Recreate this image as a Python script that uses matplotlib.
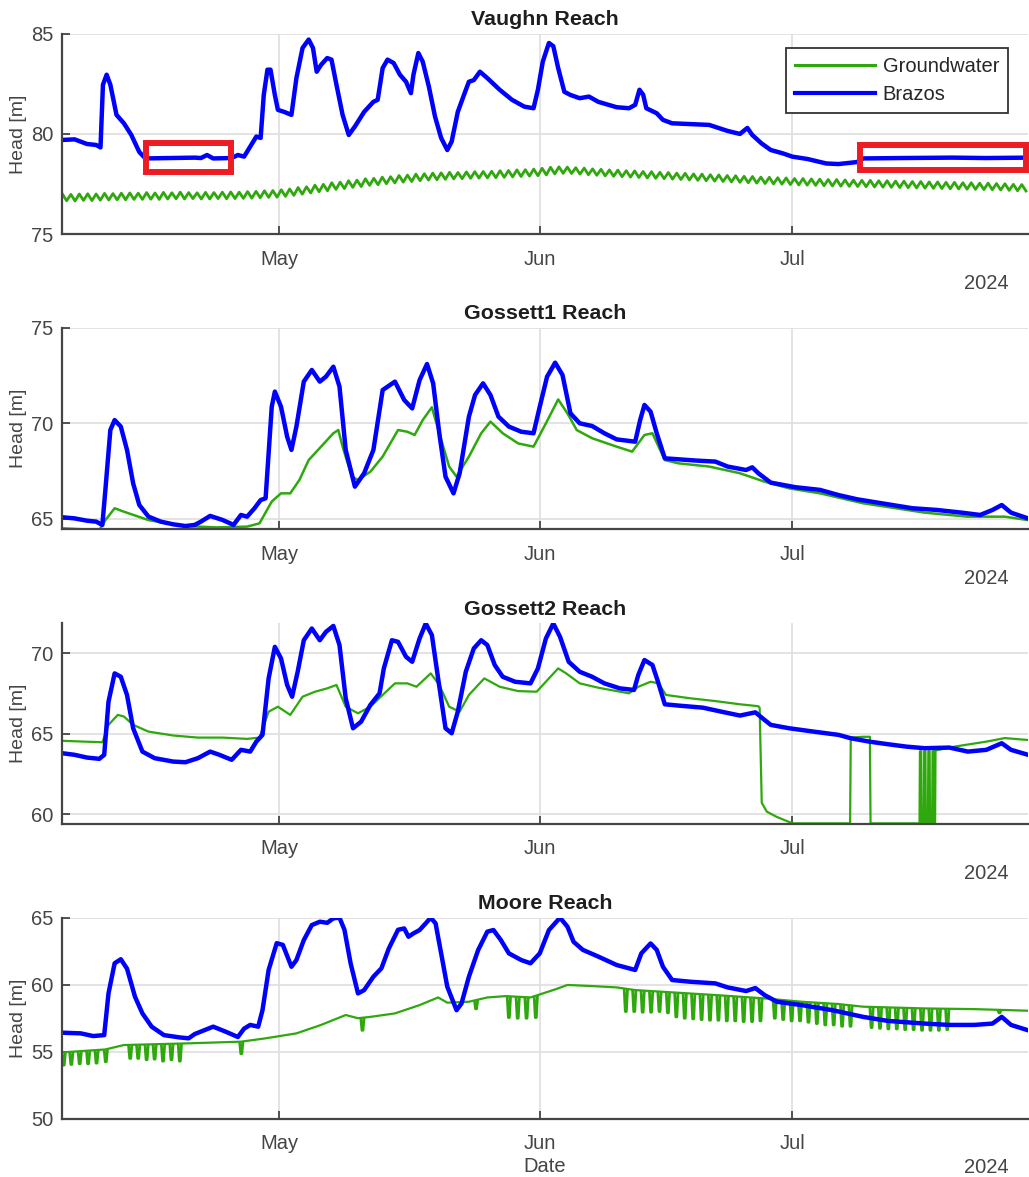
import numpy as np
import matplotlib
matplotlib.use("Agg")
import matplotlib.pyplot as plt
import matplotlib.dates as mdates
from matplotlib.lines import Line2D
from matplotlib.patches import Rectangle
from matplotlib.collections import LineCollection

plt.rcParams['font.family'] = ['Liberation Sans', 'DejaVu Sans']

# ---- data: (days since 2024-04-01, head [m]) ----
vaughn_brazos = [
    (4.2, 79.7), (5.69, 79.73), (7.16, 79.5), (8.26, 79.45), (8.77, 79.33), (9.06, 82.45),
    (9.50, 82.95), (9.94, 82.45), (10.67, 80.95), (11.55, 80.53), (12.43, 79.95), (13.38, 79.1),
    (14.11, 78.78), (17.0, 78.8), (20.0, 78.82), (20.70, 78.8), (21.43, 78.95), (22.16, 78.78),
    (24.36, 78.8), (25.09, 78.95), (25.83, 78.87), (26.56, 79.37), (27.29, 79.87), (27.80, 79.8),
    (28.17, 81.94), (28.61, 83.2), (28.97, 83.2), (29.49, 81.94), (29.85, 81.2), (30.58, 81.1),
    (31.46, 80.95), (32.05, 82.78), (32.78, 84.28), (33.51, 84.7), (34.02, 84.28), (34.46, 83.1),
    (34.98, 83.44), (35.71, 83.78), (36.22, 83.7), (36.81, 82.45), (37.54, 80.95), (38.27, 79.95),
    (39.00, 80.37), (40.10, 81.1), (41.20, 81.6), (41.71, 81.7), (42.30, 83.28), (42.88, 83.7),
    (43.61, 83.53), (44.35, 82.95), (45.08, 82.6), (45.66, 82.03), (45.96, 82.95), (46.54, 84.03),
    (47.06, 83.6), (47.79, 82.36), (48.52, 80.87), (49.25, 79.8), (49.98, 79.2), (50.50, 79.62),
    (51.23, 81.1), (51.96, 81.94), (52.55, 82.6), (53.13, 82.68), (53.86, 83.1), (54.74, 82.78),
    (56.21, 82.2), (57.67, 81.7), (59.13, 81.36), (60.23, 81.28), (60.75, 82.2), (61.33, 83.6),
    (62.06, 84.53), (62.58, 84.37), (63.16, 83.28), (63.89, 82.1), (64.62, 81.94), (65.72, 81.78),
    (66.82, 81.86), (67.92, 81.6), (70.11, 81.33), (71.58, 81.28), (72.31, 81.45), (72.82, 82.2),
    (73.26, 81.95), (73.63, 81.28), (74.87, 81.03), (75.61, 80.7), (76.70, 80.53), (81.10, 80.45),
    (83.29, 80.15), (84.76, 80.0), (85.64, 80.3), (86.22, 79.95), (87.32, 79.53), (88.42, 79.2),
    (89.88, 79.03), (90.98, 78.87), (92.81, 78.75), (95.01, 78.53), (96.47, 78.5), (98.67, 78.6),
    (99.40, 78.78), (104.0, 78.8), (110.0, 78.82), (114.0, 78.8), (119.0, 78.82),
]

# Vaughn groundwater: daily high / low of the diurnal swing, days 4..118
vaughn_gw_first_day = 4
vaughn_gw_high = [
    77.00, 76.99, 77.01, 77.02, 77.01, 77.04, 77.03, 77.05, 77.06, 77.05,
    77.08, 77.06, 77.09, 77.07, 77.10, 77.08, 77.07, 77.09, 77.08, 77.10,
    77.11, 77.10, 77.13, 77.14, 77.17, 77.18, 77.22, 77.26, 77.33, 77.37,
    77.45, 77.49, 77.57, 77.60, 77.67, 77.70, 77.77, 77.79, 77.85, 77.87,
    77.93, 77.95, 78.00, 78.02, 78.05, 78.06, 78.09, 78.08, 78.11, 78.12,
    78.13, 78.14, 78.17, 78.18, 78.21, 78.22, 78.25, 78.29, 78.34, 78.36,
    78.35, 78.32, 78.30, 78.26, 78.24, 78.21, 78.20, 78.17, 78.16, 78.13,
    78.12, 78.09, 78.08, 78.05, 78.04, 78.01, 78.00, 77.97, 77.96, 77.93,
    77.92, 77.89, 77.88, 77.85, 77.84, 77.82, 77.81, 77.78, 77.78, 77.76,
    77.75, 77.73, 77.73, 77.71, 77.70, 77.69, 77.69, 77.67, 77.67, 77.65,
    77.65, 77.63, 77.63, 77.61, 77.61, 77.59, 77.59, 77.57, 77.57, 77.55,
    77.55, 77.53, 77.52, 77.49, 77.48,
]
vaughn_gw_low = [
    76.67, 76.66, 76.69, 76.68, 76.70, 76.71, 76.72, 76.72, 76.74, 76.74,
    76.75, 76.74, 76.76, 76.77, 76.76, 76.78, 76.76, 76.76, 76.78, 76.77,
    76.78, 76.79, 76.80, 76.82, 76.84, 76.85, 76.89, 76.94, 77.00, 77.06,
    77.12, 77.17, 77.24, 77.28, 77.34, 77.38, 77.44, 77.47, 77.52, 77.56,
    77.60, 77.63, 77.67, 77.70, 77.72, 77.74, 77.76, 77.77, 77.79, 77.80,
    77.81, 77.82, 77.84, 77.86, 77.88, 77.90, 77.92, 77.96, 78.01, 78.04,
    78.03, 78.00, 77.97, 77.94, 77.91, 77.89, 77.87, 77.85, 77.83, 77.81,
    77.79, 77.77, 77.75, 77.73, 77.71, 77.69, 77.67, 77.65, 77.63, 77.61,
    77.59, 77.57, 77.55, 77.53, 77.51, 77.50, 77.48, 77.46, 77.45, 77.44,
    77.42, 77.41, 77.40, 77.39, 77.38, 77.37, 77.36, 77.35, 77.34, 77.33,
    77.32, 77.31, 77.30, 77.29, 77.28, 77.27, 77.26, 77.25, 77.24, 77.23,
    77.22, 77.21, 77.19, 77.17, 77.16,
]

gossett1_brazos = [
    (4.2, 65.09), (5.69, 65.03), (7.16, 64.91), (8.26, 64.86), (8.99, 64.69), (9.35, 66.52),
    (9.94, 69.65), (10.45, 70.17), (11.18, 69.83), (11.92, 68.61), (12.65, 66.86), (13.38, 65.73),
    (14.48, 65.12), (15.94, 64.86), (17.41, 64.72), (18.87, 64.63), (19.97, 64.69), (20.70, 64.86),
    (21.80, 65.16), (23.26, 64.95), (24.58, 64.69), (25.46, 65.21), (26.19, 65.12), (27.07, 65.56),
    (27.80, 65.99), (28.39, 66.08), (29.12, 70.87), (29.49, 71.66), (30.22, 70.87), (30.95, 69.3),
    (31.46, 68.61), (32.05, 69.83), (32.93, 72.18), (33.88, 72.79), (34.83, 72.18), (35.56, 72.44),
    (36.44, 72.96), (37.17, 71.92), (37.91, 68.61), (39.00, 66.69), (40.10, 67.39), (41.20, 68.61),
    (42.30, 71.74), (43.76, 72.18), (44.86, 71.22), (45.81, 70.78), (46.69, 72.26), (47.57, 73.1),
    (48.30, 72.09), (49.03, 69.48), (49.77, 67.21), (50.72, 66.34), (51.45, 67.39), (52.55, 70.35),
    (53.28, 71.48), (54.23, 72.09), (55.11, 71.48), (56.06, 70.35), (57.30, 69.83), (58.77, 69.56),
    (60.23, 69.48), (60.97, 70.87), (61.84, 72.44), (62.80, 73.17), (63.67, 72.53), (64.62, 70.52),
    (65.72, 70.0), (67.19, 69.86), (68.65, 69.48), (70.11, 69.16), (72.31, 69.04), (72.90, 70.17),
    (73.41, 70.96), (74.14, 70.61), (74.87, 69.48), (75.83, 68.17), (77.44, 68.12), (79.63, 68.05),
    (81.83, 68.0), (83.29, 67.74), (85.49, 67.56), (86.22, 67.7), (86.95, 67.39), (88.42, 66.9),
    (91.35, 66.66), (94.27, 66.52), (96.47, 66.25), (98.67, 66.03), (101.60, 65.82), (105.26, 65.56),
    (108.18, 65.47), (111.11, 65.33), (113.31, 65.21), (114.77, 65.47), (115.87, 65.73),
    (116.97, 65.33), (119.0, 65.03),
]
gossett1_gw = [
    (4.2, 64.51), (8.62, 64.42), (9.35, 64.94), (10.45, 65.56), (11.55, 65.38), (13.01, 65.16),
    (14.48, 64.94), (16.67, 64.77), (18.87, 64.63), (22.53, 64.56), (26.19, 64.6), (27.66, 64.77),
    (29.12, 65.91), (30.22, 66.34), (31.32, 66.34), (32.41, 67.04), (33.51, 68.08), (34.98, 68.78),
    (36.44, 69.48), (37.03, 69.65), (37.54, 68.78), (38.64, 67.21), (39.37, 67.04), (40.84, 67.47),
    (42.30, 68.26), (44.13, 69.65), (45.23, 69.56), (46.10, 69.39), (47.06, 70.17), (48.15, 70.84),
    (49.03, 69.48), (50.20, 67.74), (51.08, 67.21), (52.55, 68.26), (54.01, 69.48), (55.11, 70.09),
    (56.57, 69.48), (58.40, 68.95), (60.23, 68.78), (61.70, 70.0), (63.16, 71.25), (64.26, 70.52),
    (65.36, 69.65), (67.19, 69.22), (70.11, 68.78), (71.95, 68.52), (73.41, 69.39), (74.36, 69.48),
    (75.83, 68.08), (77.44, 67.91), (81.10, 67.74), (84.76, 67.39), (87.68, 66.95), (90.61, 66.6),
    (94.27, 66.34), (99.40, 65.82), (106.72, 65.33), (111.84, 65.12), (116.24, 65.12), (119.0, 64.94),
]

gossett2_brazos = [
    (4.2, 63.78), (5.69, 63.68), (7.16, 63.51), (8.62, 63.43), (9.21, 63.68), (9.72, 66.98),
    (10.45, 68.74), (11.18, 68.53), (11.92, 67.4), (12.65, 65.33), (13.75, 63.88), (15.21, 63.47),
    (17.41, 63.26), (18.87, 63.22), (20.34, 63.47), (21.80, 63.88), (22.90, 63.68), (24.36, 63.37),
    (25.46, 63.99), (26.56, 63.88), (27.29, 64.5), (28.02, 64.92), (28.75, 68.43), (29.49, 70.39),
    (30.22, 69.67), (30.95, 68.02), (31.54, 67.29), (32.20, 68.84), (32.93, 70.8), (33.88, 71.53),
    (34.83, 70.8), (35.56, 71.32), (36.44, 71.69), (37.17, 70.5), (37.91, 67.19), (38.78, 65.33),
    (39.74, 65.74), (40.84, 66.78), (41.93, 67.5), (42.44, 69.05), (43.40, 70.8), (44.13, 70.7),
    (45.08, 69.77), (45.81, 69.46), (46.69, 70.91), (47.42, 71.84), (48.15, 71.12), (48.89, 68.43),
    (49.77, 65.33), (50.50, 65.02), (51.23, 66.36), (52.18, 68.84), (53.13, 70.29), (54.01, 70.8),
    (54.74, 70.5), (55.62, 69.26), (56.57, 68.53), (58.04, 68.22), (59.87, 68.12), (60.75, 69.05),
    (61.70, 70.91), (62.58, 71.84), (63.38, 71.01), (64.41, 69.46), (65.72, 68.84), (67.19, 68.53),
    (68.65, 68.12), (70.48, 67.81), (72.17, 67.71), (72.68, 68.64), (73.41, 69.57), (74.36, 69.26),
    (75.02, 68.22), (75.83, 66.82), (77.44, 66.74), (80.36, 66.61), (82.56, 66.36), (84.76, 66.12),
    (86.59, 66.32), (87.68, 65.85), (88.42, 65.54), (90.61, 65.33), (93.54, 65.12), (96.47, 64.92),
    (97.93, 64.71), (100.13, 64.5), (102.33, 64.34), (104.53, 64.19), (106.72, 64.09),
    (109.65, 64.13), (111.84, 63.88), (114.04, 63.99), (115.87, 64.4), (116.97, 63.99), (119.0, 63.68),
]
gossett2_gw = [
    (4.2, 64.55), (8.99, 64.46), (9.72, 65.54), (10.82, 66.16), (11.55, 66.06), (12.65, 65.54),
    (14.48, 65.12), (17.41, 64.88), (20.34, 64.75), (23.26, 64.75), (26.19, 64.67), (27.66, 64.75),
    (28.75, 66.36), (29.85, 66.67), (31.32, 66.16), (32.78, 67.29), (34.25, 67.6), (35.71, 67.81),
    (36.81, 68.02), (37.91, 66.67), (39.37, 66.26), (40.84, 66.67), (42.30, 67.4), (43.76, 68.12),
    (45.23, 68.12), (46.32, 67.91), (48.01, 68.74), (49.03, 68.02), (50.20, 66.67), (51.45, 66.36),
    (52.55, 67.4), (54.38, 68.43), (56.21, 67.91), (58.40, 67.64), (60.60, 67.6), (62.06, 68.43),
    (63.16, 69.05), (64.11, 68.74), (65.72, 68.12), (67.92, 67.85), (71.58, 67.5), (72.68, 67.91),
    (74.14, 68.22), (75.09, 68.12), (75.97, 67.4), (78.90, 67.19), (81.83, 67.02), (84.76, 66.82),
    (86.95, 66.7), (87.10, 66.6), (87.35, 60.7), (87.95, 60.15), (89.10, 59.83), (91.00, 59.42),
    (97.85, 59.42), (97.93, 64.75), (99.40, 64.8), (100.20, 64.8), (100.28, 59.42), (106.10, 59.42),
    (106.15, 63.9), (106.30, 63.9), (106.35, 59.42), (106.60, 59.42), (106.65, 63.9), (106.80, 63.9),
    (106.85, 59.42), (107.10, 59.42), (107.15, 63.9), (107.30, 63.9), (107.35, 59.42), (107.60, 59.42),
    (107.65, 63.9), (107.80, 63.9), (107.85, 59.42), (107.95, 59.42), (108.00, 63.95), (110.38, 64.2),
    (114.04, 64.5), (116.24, 64.72), (119.0, 64.6),
]

moore_brazos = [
    (4.2, 56.42), (6.43, 56.37), (7.89, 56.17), (9.21, 56.24), (9.72, 59.35), (10.45, 61.6),
    (11.18, 61.9), (11.92, 61.2), (12.87, 59.1), (13.75, 57.86), (14.85, 56.87), (16.31, 56.24),
    (18.14, 56.07), (19.24, 56.0), (19.97, 56.32), (22.16, 56.87), (23.63, 56.5), (25.09, 56.1),
    (25.83, 56.72), (26.56, 57.0), (27.51, 56.87), (28.02, 58.1), (28.75, 61.1), (29.71, 63.1),
    (30.44, 62.97), (31.46, 61.34), (32.05, 61.84), (32.93, 63.33), (33.88, 64.45), (34.83, 64.7),
    (35.71, 64.62), (36.44, 64.95), (37.17, 65.0), (37.76, 64.1), (38.49, 61.6), (39.37, 59.35),
    (40.10, 59.6), (41.20, 60.6), (42.15, 61.22), (43.03, 62.7), (44.13, 64.1), (44.86, 64.2),
    (45.37, 63.58), (45.96, 63.83), (46.69, 64.08), (47.42, 64.58), (48.01, 65.0), (48.59, 64.58),
    (49.25, 62.34), (49.98, 59.85), (51.08, 58.1), (51.67, 58.6), (52.55, 60.6), (53.65, 62.59),
    (54.74, 63.96), (55.47, 64.08), (56.35, 63.33), (57.30, 62.34), (58.77, 61.84), (59.87, 61.6),
    (60.97, 62.34), (62.06, 64.08), (63.38, 65.0), (64.26, 64.33), (64.99, 63.2), (66.09, 62.6),
    (67.92, 62.1), (70.11, 61.47), (72.31, 61.1), (73.04, 62.34), (74.14, 63.08), (74.87, 62.6),
    (75.61, 61.34), (76.70, 60.35), (78.90, 60.22), (81.83, 60.1), (83.29, 59.8), (85.49, 59.53),
    (86.59, 59.75), (87.68, 59.23), (89.15, 58.73), (92.08, 58.48), (95.74, 58.1), (99.40, 57.6),
    (102.33, 57.3), (106.72, 57.1), (109.65, 57.0), (112.58, 57.0), (114.77, 57.1), (115.87, 57.6),
    (116.97, 57.0), (119.0, 56.6),
]
moore_gw = [
    (4.2, 54.95), (9.35, 55.17), (11.55, 55.5), (18.87, 55.62), (25.46, 55.75), (28.39, 56.0),
    (32.05, 56.37), (34.98, 57.0), (37.91, 57.74), (39.37, 57.5), (40.84, 57.6), (43.76, 57.86),
    (46.69, 58.48), (48.89, 59.05), (49.98, 58.66), (52.55, 58.73), (54.74, 59.05), (56.94, 59.15),
    (59.87, 59.05), (62.80, 59.65), (64.26, 59.98), (67.19, 59.9), (70.11, 59.8), (72.31, 59.6),
    (77.44, 59.4), (81.83, 59.23), (87.68, 58.98), (92.08, 58.73), (96.47, 58.56), (99.40, 58.36),
    (106.72, 58.23), (112.58, 58.18), (119.0, 58.06),
]
# short downward spikes in the Moore groundwater record: (day, lowest head)
moore_gw_dips = [
    (4.4, 54.0), (5.3, 54.05), (6.3, 54.1), (7.3, 54.1), (8.3, 54.15), (9.4, 54.25),
    (12.3, 54.5), (13.25, 54.5), (14.25, 54.4), (15.2, 54.45), (16.2, 54.3), (17.2, 54.4), (18.2, 54.3),
    (25.5, 54.85), (39.9, 56.6), (53.4, 58.2),
    (57.3, 57.55), (58.35, 57.5), (59.4, 57.5), (60.5, 57.55),
    (71.2, 58.0), (72.2, 58.0), (73.2, 57.95), (74.2, 57.95), (75.2, 58.0), (76.2, 57.9),
    (77.2, 57.6), (78.2, 57.5), (79.2, 57.45), (80.2, 57.4), (81.2, 57.35), (82.2, 57.35),
    (83.2, 57.3), (84.2, 57.3), (85.2, 57.25), (86.2, 57.25), (87.2, 57.3),
    (88.9, 57.5), (89.9, 57.4), (90.9, 57.3), (91.9, 57.3), (92.9, 57.2), (93.9, 57.1),
    (94.9, 57.0), (95.9, 57.0), (96.9, 56.9), (97.9, 56.9),
    (100.4, 56.8), (101.4, 56.75), (102.4, 56.7), (103.4, 56.7), (104.4, 56.65), (105.4, 56.65),
    (106.4, 56.6), (107.4, 56.6), (108.4, 56.6), (109.4, 56.65),
    (115.6, 57.9),
]

panel_titles = ['Vaughn Reach', 'Gossett1 Reach', 'Gossett2 Reach', 'Moore Reach']
panel_ylims = [(75, 85), (64.46, 75), (59.38, 71.85), (50, 65)]
panel_yticks = [[75, 80, 85], [65, 70, 75], [60, 65, 70], [50, 55, 60, 65]]
x_range_days = [4.2, 119.0]

START = np.datetime64('2024-04-01T00:00')
GREEN = '#2ea80c'
BLUE = '#0000ff'
GRAY = '#454545'


def to_dates(days):
    secs = np.round(np.asarray(days, dtype=float) * 86400).astype('int64')
    return START + secs.astype('timedelta64[s]')


def xy(pairs):
    arr = np.array(pairs, dtype=float)
    return to_dates(arr[:, 0]), arr[:, 1]


fig = plt.figure(figsize=(10.29, 11.77), dpi=100)
boxes = [
    (0.0603, 0.8009, 0.9388, 0.1706),
    (0.0603, 0.5503, 0.9388, 0.1713),
    (0.0603, 0.2999, 0.9388, 0.1705),
    (0.0603, 0.0495, 0.9388, 0.1708),
]
axes = [fig.add_axes(b) for b in boxes]

# Vaughn
ax = axes[0]
gw_days = np.arange(vaughn_gw_first_day, vaughn_gw_first_day + len(vaughn_gw_high))
gx = np.column_stack([gw_days + 0.25, gw_days + 0.75]).ravel()
gy = np.column_stack([vaughn_gw_high, vaughn_gw_low]).ravel()
ax.plot(to_dates(gx), gy, color=GREEN, lw=2.0)
ax.plot(*xy(vaughn_brazos), color=BLUE, lw=3.2)

# Gossett1
axes[1].plot(*xy(gossett1_gw), color=GREEN, lw=1.8)
axes[1].plot(*xy(gossett1_brazos), color=BLUE, lw=3.2)

# Gossett2
axes[2].plot(*xy(gossett2_gw), color=GREEN, lw=1.6)
axes[2].plot(*xy(gossett2_brazos), color=BLUE, lw=3.2)

# Moore
ax = axes[3]
mx, my = xy(moore_gw)
ax.plot(mx, my, color=GREEN, lw=1.6)
dips = np.array(moore_gw_dips)
base_days = np.array(moore_gw)[:, 0]
tops = np.interp(dips[:, 0], base_days, my)
segs = []
for (d, low), top in zip(dips, tops):
    xs = mdates.date2num(to_dates([d - 0.2, d - 0.06, d + 0.06, d + 0.2]))
    segs.append(list(zip(xs, [top, low, low, top])))
ax.add_collection(LineCollection(segs, colors=GREEN, linewidths=2.0))
ax.plot(*xy(moore_brazos), color=BLUE, lw=3.2)

for ax, title, ylim, yt in zip(axes, panel_titles, panel_ylims, panel_yticks):
    ax.set_xlim(*to_dates(x_range_days))
    ax.set_ylim(*ylim)
    ax.set_yticks(yt)
    ax.xaxis.set_major_locator(mdates.MonthLocator(bymonth=[5, 6, 7]))
    ax.xaxis.set_major_formatter(mdates.DateFormatter('%b'))
    ax.grid(True, color='#e0e0e0', lw=1.3)
    ax.set_axisbelow(True)
    for s in ['top', 'right']:
        ax.spines[s].set_visible(False)
    for s in ['left', 'bottom']:
        ax.spines[s].set_color(GRAY)
        ax.spines[s].set_linewidth(1.6)
    ax.tick_params(direction='in', length=6, width=1.3, colors=GRAY, labelsize=14.5, pad=6)
    ax.tick_params(axis='x', pad=11)
    ax.set_title(title, fontsize=15.4, fontweight='bold', color='#1e1e1e', pad=6)
    ax.set_ylabel('Head [m]', fontsize=14, color=GRAY, labelpad=3)
    ax.annotate('2024', xy=(1, 0), xycoords='axes fraction', xytext=(-19, -49),
                textcoords='offset pixels', ha='right', va='center', fontsize=14.5, color=GRAY)

axes[3].set_xlabel('Date', fontsize=14.5, color=GRAY, labelpad=3)

# highlighted boxes on the Vaughn panel
for x0, x1, y0, y1 in [(14.22, 24.26, 78.08, 79.55), (99.08, 118.8, 78.19, 79.46)]:
    left = mdates.date2num(to_dates(x0))
    axes[0].add_patch(Rectangle((left, y0), x1 - x0, y1 - y0, fill=False,
                                ec='#ed1c24', lw=4.3, clip_on=False, zorder=5))

handles = [Line2D([], [], color=GREEN, lw=2.2), Line2D([], [], color=BLUE, lw=3.0)]
leg = axes[0].legend(handles, ['Groundwater', 'Brazos'], loc='upper right',
                     bbox_to_anchor=(0.9793, 0.9278), borderaxespad=0, fontsize=14.5,
                     handlelength=4.0, handletextpad=0.35, labelspacing=0.45,
                     borderpad=0.45, fancybox=False, edgecolor='#333333', framealpha=1)
leg.get_frame().set_linewidth(1.3)
for t in leg.get_texts():
    t.set_color('#262626')

fig.savefig('out.png', dpi=100)
